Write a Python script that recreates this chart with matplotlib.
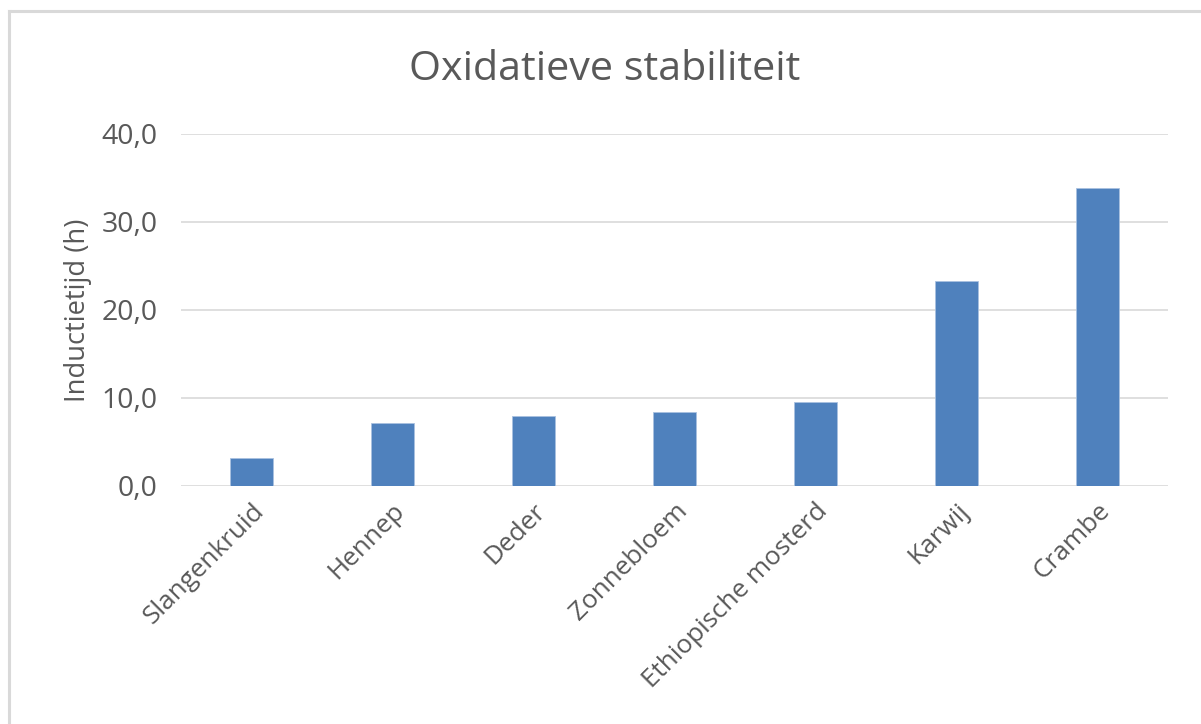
import matplotlib
matplotlib.use('Agg')
import matplotlib.pyplot as plt
from matplotlib.lines import Line2D
from matplotlib.ticker import FuncFormatter

# Gegevens uit de grafiek
gewassen = ['Slangenkruid', 'Hennep', 'Deder', 'Zonnebloem',
            'Ethiopische mosterd', 'Karwij', 'Crambe']
inductietijd = [3.2, 7.2, 7.9, 8.4, 9.5, 23.3, 33.9]
y_ticks = [0, 10, 20, 30, 40]

plt.rcParams['font.family'] = ['Open Sans', 'DejaVu Sans']
grijs = '#595959'

fig = plt.figure(figsize=(12.01, 7.24), dpi=100)
ax = fig.add_axes([181 / 1201, 1 - 486 / 724, 987 / 1201, 352 / 724])

x = range(len(gewassen))
ax.bar(x, inductietijd, width=0.31, color='#4f81bd', edgecolor='#a9c1e0',
       linewidth=0.6, zorder=3)

ax.set_xlim(-0.5, len(gewassen) - 0.5)
ax.set_ylim(0, 40)
ax.set_yticks(y_ticks)
ax.yaxis.set_major_formatter(FuncFormatter(lambda v, p: f'{v:.1f}'.replace('.', ',')))
ax.grid(axis='y', color='#d9d9d9', linewidth=1.2, zorder=0)
for s in ax.spines.values():
    s.set_visible(False)
ax.tick_params(axis='both', length=0, colors=grijs)
ax.tick_params(axis='y', pad=17, labelsize=20.5)
ax.set_xticks(list(x))
ax.set_xticklabels(gewassen, rotation=45, ha='right', va='top',
                   rotation_mode='anchor')
ax.tick_params(axis='x', pad=9, labelsize=18.8)

ax.set_ylabel('Inductietijd (h)', fontsize=19.7, color=grijs, labelpad=7)
fig.text(605 / 1201, 1 - 70 / 724, 'Oxidatieve stabiliteit', fontsize=29.7,
         color=grijs, ha='center', va='center')

# Kader links en boven
fig.add_artist(Line2D([8.5 / 1201, 8.5 / 1201], [0, 1 - 11 / 724],
                      color='#d9d9d9', linewidth=2.2))
fig.add_artist(Line2D([8.5 / 1201, 1], [1 - 11 / 724, 1 - 11 / 724],
                      color='#d9d9d9', linewidth=2.2))

fig.savefig('out.png', dpi=100)
